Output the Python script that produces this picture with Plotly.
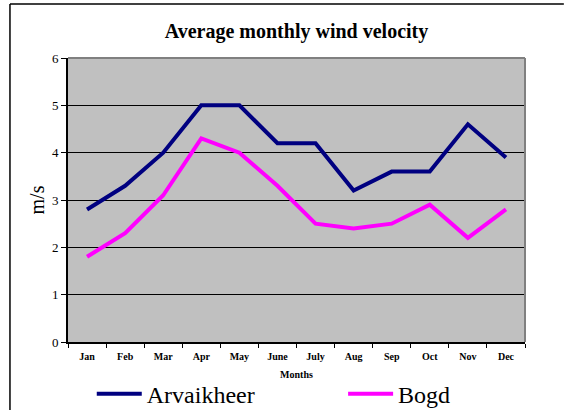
import plotly.graph_objects as go

# monthly averages (m/s)
months = ['Jan', 'Feb', 'Mar', 'Apr', 'May', 'June', 'July', 'Aug', 'Sep', 'Oct', 'Nov', 'Dec']
arvaikheer = [2.8, 3.3, 4.0, 5.0, 5.0, 4.2, 4.2, 3.2, 3.6, 3.6, 4.6, 3.9]
bogd = [1.8, 2.3, 3.1, 4.3, 4.0, 3.3, 2.5, 2.4, 2.5, 2.9, 2.2, 2.8]

serif = 'Liberation Serif'

fig = go.Figure()
fig.add_trace(go.Scatter(x=months, y=arvaikheer, mode='lines', name='Arvaikheer',
                         line=dict(color='#000080', width=4), legend='legend'))
fig.add_trace(go.Scatter(x=months, y=bogd, mode='lines', name='Bogd',
                         line=dict(color='#FF00FF', width=4), legend='legend2'))

legend_style = dict(orientation='h', yanchor='top', y=-0.104, bgcolor='white',
                    font=dict(size=24, family=serif, color='black'), itemwidth=45,
                    borderwidth=0)

fig.update_layout(
    width=568, height=410,
    margin=dict(l=68, r=43, t=58, b=68, autoexpand=False),
    paper_bgcolor='white',
    plot_bgcolor='#C0C0C0',
    font=dict(family=serif, color='black'),
    title=dict(text='<b>Average monthly wind velocity</b>', x=0.522, xanchor='center',
               y=0.924, yanchor='middle', font=dict(size=20, family=serif)),
    xaxis=dict(
        range=[-0.5, 11.5], automargin=False,
        tickson='boundaries', ticks='outside', ticklen=4, tickcolor='black',
        ticklabelstandoff=4,
        showline=True, linecolor='black', linewidth=2,
        showgrid=False, tickfont=dict(size=10, family=serif),
        tickvals=months, ticktext=[f'<b>{m}</b>' for m in months],
        title=dict(text='<b>Months</b>', font=dict(size=10, family=serif), standoff=10),
    ),
    yaxis=dict(
        range=[0, 6], dtick=1, automargin=False,
        ticks='outside', ticklen=5, tickcolor='black',
        showline=True, linecolor='black', linewidth=2,
        showgrid=True, gridcolor='black', gridwidth=1, zeroline=False,
        tickfont=dict(size=13, family=serif),
        title=dict(text='m/s', font=dict(size=20, family=serif), standoff=2),
    ),
    legend=dict(legend_style, x=0.052, xanchor='left'),
    legend2=dict(legend_style, x=0.602, xanchor='left'),
    showlegend=True,
)

# gray frame on top and right of the plot area, outer chart border on top and left
fig.add_shape(type='line', xref='paper', yref='paper', x0=0, x1=1, y0=1, y1=1,
              line=dict(color='#808080', width=2))
fig.add_shape(type='line', xref='paper', yref='paper', x0=1, x1=1, y0=0, y1=1,
              line=dict(color='#808080', width=2))
fig.add_shape(type='line', xref='paper', yref='paper', x0=-0.127, x1=1.085, y0=1.19, y1=1.19,
              line=dict(color='black', width=1.5))
fig.add_shape(type='line', xref='paper', yref='paper', x0=-0.127, x1=-0.127, y0=-0.3, y1=1.19,
              line=dict(color='black', width=1.5))

# drop the page's default body margin so the chart sits at the window's corner
fig.write_html('out.html', config={'displayModeBar': False},
               post_script="document.body.style.margin='0px';")
